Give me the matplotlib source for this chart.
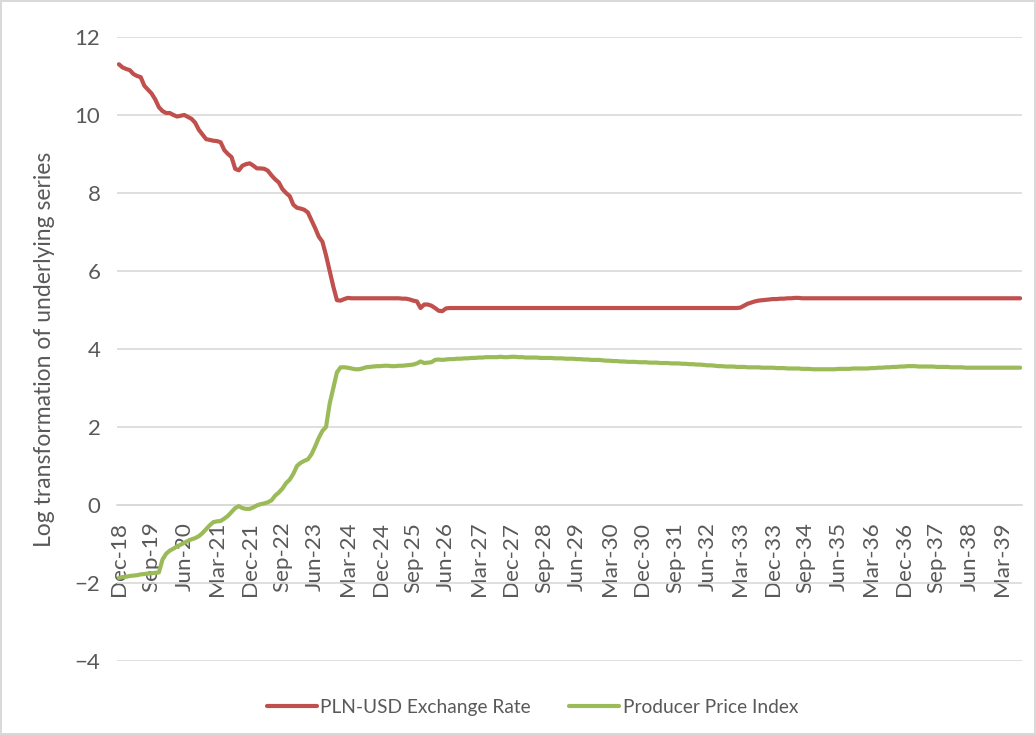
import matplotlib
matplotlib.use("Agg")
import matplotlib.pyplot as plt
import numpy as np
import pandas as pd

plt.rcParams['font.family'] = ['Lato', 'DejaVu Sans']

# monthly data, Dec-18 .. Aug-39
start_month = "2018-12"
n_months = 249

pln_usd = [
    11.30, 11.22, 11.18, 11.15, 11.05, 11.00, 10.97, 10.75, 10.65, 10.55, 10.40, 10.20,
    10.10, 10.05, 10.05, 10.00, 9.96, 9.98, 10.00, 9.95, 9.90, 9.80, 9.62, 9.50,
    9.38, 9.36, 9.34, 9.33, 9.30, 9.10, 9.00, 8.92, 8.62, 8.58, 8.70, 8.74,
    8.76, 8.70, 8.63, 8.63, 8.62, 8.57, 8.45, 8.35, 8.27, 8.10, 8.00, 7.92,
    7.70, 7.62, 7.60, 7.57, 7.50, 7.30, 7.10, 6.88, 6.75, 6.40, 6.00, 5.60,
    5.25, 5.24, 5.28, 5.31, 5.30, 5.30, 5.30, 5.30, 5.30, 5.30, 5.30, 5.30,
    5.30, 5.30, 5.30, 5.30, 5.30, 5.30, 5.29, 5.29, 5.27, 5.24, 5.22, 5.05,
    5.14, 5.14, 5.11, 5.05, 4.98, 4.97, 5.04, 5.05, 5.05, 5.05, 5.05, 5.05,
    5.05, 5.05, 5.05, 5.05, 5.05, 5.05, 5.05, 5.05, 5.05, 5.05, 5.05, 5.05,
    5.05, 5.05, 5.05, 5.05, 5.05, 5.05, 5.05, 5.05, 5.05, 5.05, 5.05, 5.05,
    5.05, 5.05, 5.05, 5.05, 5.05, 5.05, 5.05, 5.05, 5.05, 5.05, 5.05, 5.05,
    5.05, 5.05, 5.05, 5.05, 5.05, 5.05, 5.05, 5.05, 5.05, 5.05, 5.05, 5.05,
    5.05, 5.05, 5.05, 5.05, 5.05, 5.05, 5.05, 5.05, 5.05, 5.05, 5.05, 5.05,
    5.05, 5.05, 5.05, 5.05, 5.05, 5.05, 5.05, 5.05, 5.05, 5.05, 5.05, 5.05,
    5.05, 5.05, 5.05, 5.06, 5.11, 5.16, 5.19, 5.22, 5.24, 5.25, 5.26, 5.27,
    5.28, 5.28, 5.29, 5.29, 5.30, 5.30, 5.31, 5.31, 5.30, 5.30, 5.30, 5.30,
    5.30, 5.30, 5.30, 5.30, 5.30, 5.30, 5.30, 5.30, 5.30, 5.30, 5.30, 5.30,
    5.30, 5.30, 5.30, 5.30, 5.30, 5.30, 5.30, 5.30, 5.30, 5.30, 5.30, 5.30,
    5.30, 5.30, 5.30, 5.30, 5.30, 5.30, 5.30, 5.30, 5.30, 5.30, 5.30, 5.30,
    5.30, 5.30, 5.30, 5.30, 5.30, 5.30, 5.30, 5.30, 5.30, 5.30, 5.30, 5.30,
    5.30, 5.30, 5.30, 5.30, 5.30, 5.30, 5.30, 5.30, 5.30,
]

ppi = [
    -1.87, -1.85, -1.84, -1.82, -1.81, -1.80, -1.78, -1.77, -1.76, -1.75, -1.74, -1.73,
    -1.40, -1.25, -1.17, -1.12, -1.06, -1.02, -0.97, -0.92, -0.88, -0.85, -0.80, -0.72,
    -0.62, -0.52, -0.44, -0.42, -0.41, -0.35, -0.28, -0.18, -0.08, -0.03, -0.08, -0.10,
    -0.10, -0.06, -0.01, 0.02, 0.04, 0.07, 0.12, 0.24, 0.32, 0.42, 0.56, 0.65,
    0.80, 1.00, 1.08, 1.13, 1.17, 1.30, 1.50, 1.72, 1.90, 2.00, 2.60, 3.00,
    3.40, 3.53, 3.53, 3.52, 3.50, 3.48, 3.48, 3.50, 3.53, 3.54, 3.55, 3.56,
    3.56, 3.57, 3.57, 3.56, 3.56, 3.57, 3.57, 3.58, 3.59, 3.60, 3.63, 3.68,
    3.64, 3.65, 3.66, 3.72, 3.73, 3.72, 3.73, 3.74, 3.74, 3.75, 3.75, 3.76,
    3.76, 3.77, 3.77, 3.78, 3.78, 3.79, 3.79, 3.79, 3.79, 3.80, 3.79, 3.79,
    3.80, 3.80, 3.79, 3.79, 3.78, 3.78, 3.78, 3.78, 3.77, 3.77, 3.77, 3.77,
    3.76, 3.76, 3.76, 3.75, 3.75, 3.75, 3.74, 3.74, 3.73, 3.73, 3.72, 3.72,
    3.72, 3.71, 3.70, 3.70, 3.69, 3.69, 3.68, 3.68, 3.67, 3.67, 3.67, 3.66,
    3.66, 3.66, 3.65, 3.65, 3.65, 3.64, 3.64, 3.64, 3.63, 3.63, 3.63, 3.62,
    3.62, 3.61, 3.61, 3.60, 3.60, 3.59, 3.58, 3.58, 3.57, 3.56, 3.56, 3.55,
    3.55, 3.55, 3.54, 3.54, 3.54, 3.53, 3.53, 3.53, 3.53, 3.52, 3.52, 3.52,
    3.52, 3.51, 3.51, 3.51, 3.50, 3.50, 3.50, 3.50, 3.49, 3.49, 3.49, 3.48,
    3.48, 3.48, 3.48, 3.48, 3.48, 3.48, 3.49, 3.49, 3.49, 3.49, 3.50, 3.50,
    3.50, 3.50, 3.50, 3.51, 3.51, 3.52, 3.52, 3.53, 3.53, 3.54, 3.54, 3.55,
    3.55, 3.56, 3.56, 3.56, 3.55, 3.55, 3.55, 3.55, 3.55, 3.54, 3.54, 3.54,
    3.54, 3.53, 3.53, 3.53, 3.53, 3.52, 3.52, 3.52, 3.52, 3.52, 3.52, 3.52,
    3.52, 3.52, 3.52, 3.52, 3.52, 3.52, 3.52, 3.52, 3.52,
]

dates = pd.date_range(start_month, periods=n_months, freq="MS")
labels = [d.strftime("%b-%y") for d in dates]
x = np.arange(n_months)

red = "#C0504D"
green = "#9BBB59"
grey_txt = "#595959"
grid_col = "#D9D9D9"

fig = plt.figure(figsize=(10.36, 7.35), dpi=100)
fig.patch.set_edgecolor("#D9D9D9")
fig.patch.set_linewidth(1.5)
ax = fig.add_axes([0.113, 0.1007, 0.8735, 0.849])

ax.plot(x, pln_usd, color=red, lw=3.0, solid_capstyle="round", solid_joinstyle="round",
        label="PLN-USD Exchange Rate", zorder=3)
ax.plot(x, ppi, color=green, lw=3.0, solid_capstyle="round", solid_joinstyle="round",
        label="Producer Price Index", zorder=3)

ax.set_xlim(-0.5, n_months - 0.5)
ax.set_ylim(-4, 12)
ax.set_yticks(np.arange(-4, 13, 2))
ax.yaxis.grid(True, color=grid_col, lw=1.2)
ax.set_axisbelow(True)

for s in ["top", "right", "left"]:
    ax.spines[s].set_visible(False)
ax.spines["bottom"].set_position(("data", 0))
ax.spines["bottom"].set_color(grid_col)
ax.spines["bottom"].set_linewidth(1.2)

ax.set_xticks(x[::9])
ax.set_xticklabels(labels[::9], rotation=90)
ax.tick_params(axis="x", length=0, pad=12, labelsize=16.2, labelcolor=grey_txt)
ax.tick_params(axis="y", length=0, pad=12, labelsize=16, labelcolor=grey_txt)

ax.set_ylabel("Log transformation of underlying series", fontsize=16.5, color=grey_txt, labelpad=14)

fig.legend(loc="center", bbox_to_anchor=(0.514, 0.038), ncol=2, frameon=False,
           fontsize=13.8, labelcolor=grey_txt, handlelength=2.6, handletextpad=0.2,
           columnspacing=2.0)

fig.savefig("out.png", dpi=100)
